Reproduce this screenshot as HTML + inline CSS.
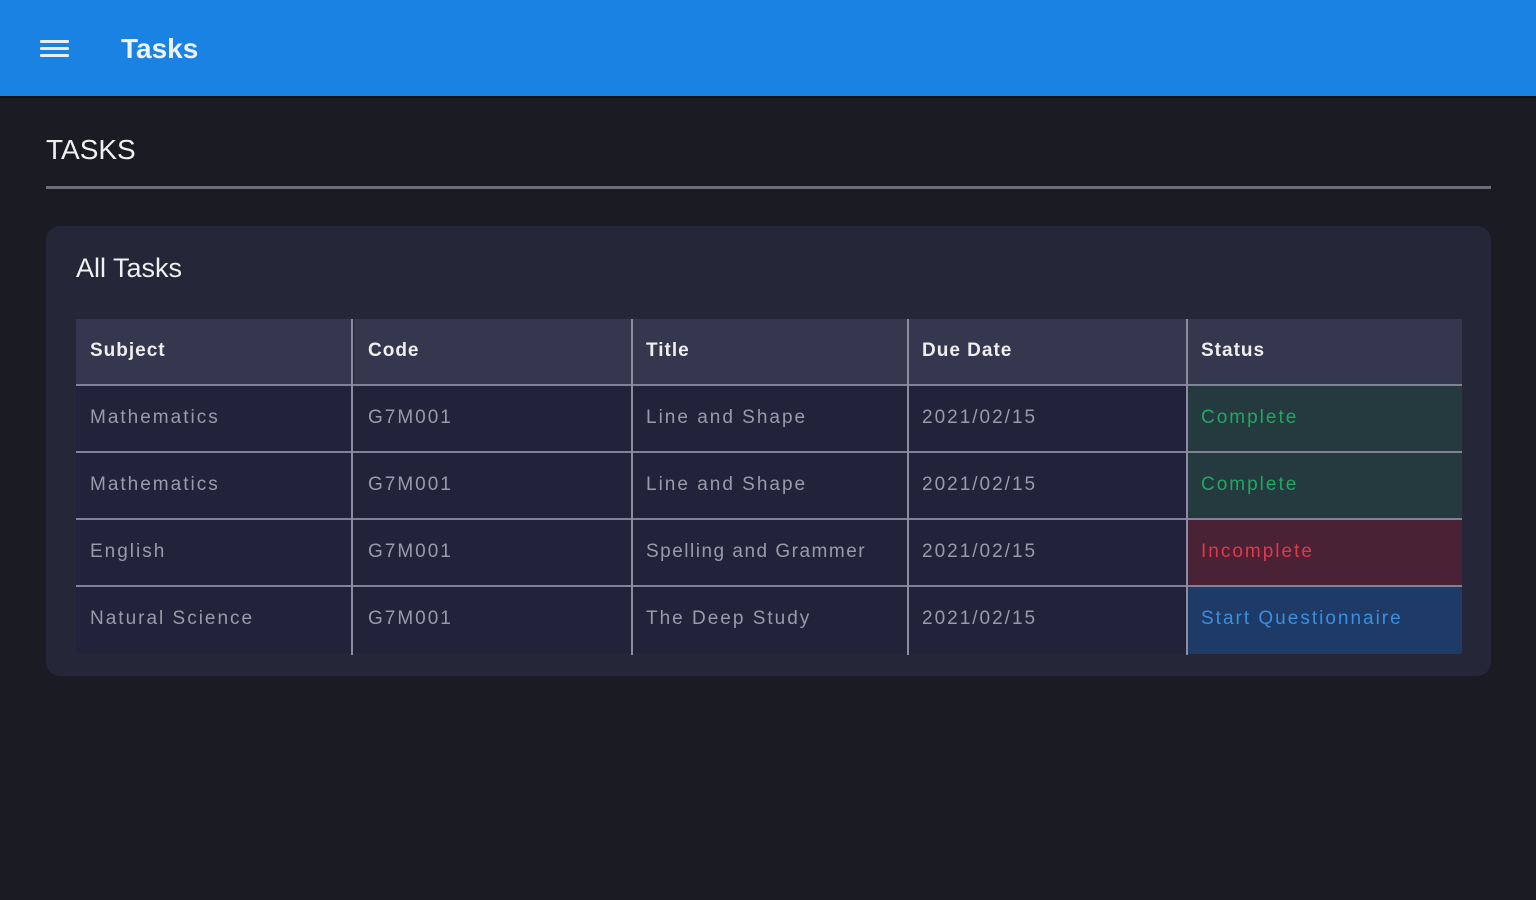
<!DOCTYPE html>
<html><head><style>
*{margin:0;padding:0;box-sizing:border-box}
body{width:1536px;height:900px;background:#1b1b24;font-family:"Liberation Sans",sans-serif;position:relative;overflow:hidden}
.hdr{position:absolute;left:0;top:0;width:1536px;height:98px;background:#1a82e2;border-bottom:2px solid #111}
.ham{position:absolute;left:40px;width:29px;height:3px;background:#e8eef8;border-radius:1px}
.t{position:absolute;color:#fff}
.card{position:absolute;left:46px;top:226px;width:1445px;height:450px;background:#252638;border-radius:14px}
.cell{position:absolute;height:66px;line-height:64px;padding-left:14px;font-size:19px;color:#9a9aaa;letter-spacing:2px;white-space:nowrap}
.h{background:#35374f;color:#eee;font-weight:bold;letter-spacing:1px}
.vl{position:absolute;width:2px;background:#8a8ca0}
.hl{position:absolute;left:76px;width:1386px;height:2px;background:#80829a}
</style></head><body>
<div class="hdr">
<div class="ham" style="top:40px"></div><div class="ham" style="top:47px"></div><div class="ham" style="top:54px"></div>
<div class="t" style="left:121px;top:33px;font-size:28px;font-weight:bold;color:#eef3fb">Tasks</div>
</div>
<div class="t" style="left:46px;top:134px;font-size:28px;color:#f0f0f0">TASKS</div>
<div style="position:absolute;left:46px;top:186px;width:1445px;height:3px;background:#6d6e7c"></div>
<div class="card"></div>
<div class="t" style="left:76px;top:253px;font-size:27px;color:#f0f0f0">All Tasks</div>
<div style="position:absolute;left:76px;top:319px;width:1386px;height:335px;background:#22233a"></div>
<div class="cell h" style="left:76px;top:319px;width:276px">Subject</div>
<div class="cell h" style="left:354px;top:319px;width:278px">Code</div>
<div class="cell h" style="left:632px;top:319px;width:276px">Title</div>
<div class="cell h" style="left:908px;top:319px;width:279px">Due Date</div>
<div class="cell h" style="left:1187px;top:319px;width:275px">Status</div>

<div class="cell" style="left:76px;top:386px">Mathematics</div>
<div class="cell" style="left:354px;top:386px">G7M001</div>
<div class="cell" style="left:632px;top:386px">Line and Shape</div>
<div class="cell" style="left:908px;top:386px">2021/02/15</div>
<div class="cell" style="left:1187px;top:386px;width:275px;background:#243a3e;color:#20a860">Complete</div>

<div class="cell" style="left:76px;top:453px">Mathematics</div>
<div class="cell" style="left:354px;top:453px">G7M001</div>
<div class="cell" style="left:632px;top:453px">Line and Shape</div>
<div class="cell" style="left:908px;top:453px">2021/02/15</div>
<div class="cell" style="left:1187px;top:453px;width:275px;background:#243a3e;color:#20a860">Complete</div>

<div class="cell" style="left:76px;top:520px">English</div>
<div class="cell" style="left:354px;top:520px">G7M001</div>
<div class="cell" style="left:632px;top:520px;letter-spacing:1.5px">Spelling and Grammer</div>
<div class="cell" style="left:908px;top:520px">2021/02/15</div>
<div class="cell" style="left:1187px;top:520px;width:275px;background:#4a2235;color:#e0394a">Incomplete</div>

<div class="cell" style="left:76px;top:587px">Natural Science</div>
<div class="cell" style="left:354px;top:587px">G7M001</div>
<div class="cell" style="left:632px;top:587px">The Deep Study</div>
<div class="cell" style="left:908px;top:587px">2021/02/15</div>
<div class="cell" style="left:1187px;top:587px;width:275px;height:67px;background:#1e3a66;color:#3b8fe0">Start Questionnaire</div>

<div class="hl" style="top:384px"></div>
<div class="hl" style="top:451px"></div>
<div class="hl" style="top:518px"></div>
<div class="hl" style="top:585px"></div>
<div class="vl" style="left:351px;top:319px;height:336px"></div>
<div class="vl" style="left:631px;top:319px;height:336px"></div>
<div class="vl" style="left:907px;top:319px;height:336px"></div>
<div class="vl" style="left:1186px;top:319px;height:336px"></div>
</body></html>
